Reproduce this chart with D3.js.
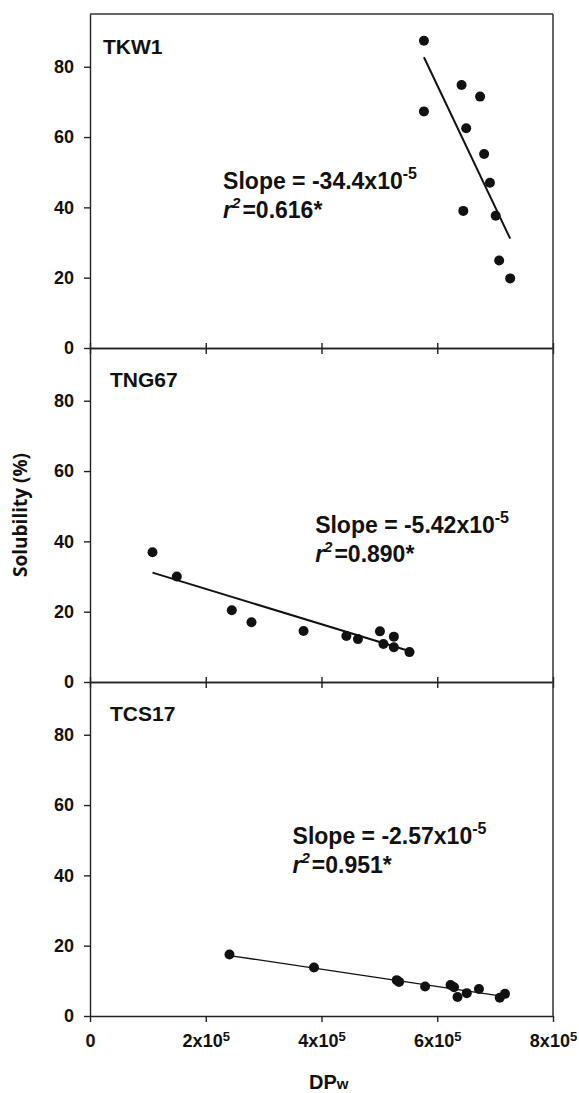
<!DOCTYPE html>
<html>
<head>
<meta charset="utf-8">
<script src="https://cdn.jsdelivr.net/npm/d3@7"></script>
<style>
  body { margin: 0; background: #fff; }
  svg { display: block; }
  text { font-family: "Liberation Sans", Arial, sans-serif; font-weight: bold; fill: #111; }
</style>
</head>
<body>
<svg id="chart" width="579" height="1093"></svg>
<script>
// data
var panelNames = ["TKW1", "TNG67", "TCS17"];

var tkw1DP  = [5.77e5, 5.77e5, 6.42e5, 6.74e5, 6.50e5, 6.81e5, 6.91e5, 6.45e5, 7.01e5, 7.07e5, 7.26e5];
var tkw1Sol = [87.4, 67.3, 74.8, 71.5, 62.5, 55.2, 47.0, 39.0, 37.6, 24.9, 19.8];

var tng67DP  = [1.08e5, 1.50e5, 2.45e5, 2.79e5, 3.69e5, 4.43e5, 4.63e5, 5.01e5, 5.07e5, 5.25e5, 5.25e5, 5.52e5];
var tng67Sol = [36.9, 30.0, 20.4, 17.0, 14.5, 13.1, 12.2, 14.4, 10.8, 12.9, 9.9, 8.5];

var tcs17DP  = [2.41e5, 3.87e5, 5.30e5, 5.34e5, 5.79e5, 6.23e5, 6.29e5, 6.35e5, 6.51e5, 6.72e5, 7.08e5, 7.17e5];
var tcs17Sol = [17.5, 13.8, 10.2, 9.7, 8.4, 8.8, 8.2, 5.4, 6.5, 7.7, 5.2, 6.3];

// regression line end points
var fitDP  = [[5.77e5, 7.26e5], [1.08e5, 5.60e5], [2.41e5, 7.14e5]];
var fitSol = [[82.7, 31.1], [31.1, 8.4], [17.2, 5.6]];

var slopeText = ["-34.4", "-5.42", "-2.57"];
var r2Text = ["0.616", "0.890", "0.951"];

var yTicks = [0, 20, 40, 60, 80];
var xTicks = [0, 2e5, 4e5, 6e5, 8e5];
var xTickMant = ["0", "2", "4", "6", "8"];

var panelDP = [tkw1DP, tng67DP, tcs17DP];
var panelSol = [tkw1Sol, tng67Sol, tcs17Sol];

// layout
var left = 90, right = 553;
var panelTop = [14, 348, 682];
var panelH = 334;
var annoPos = [[2.30e5, 45.2], [3.89e5, 42.4], [3.50e5, 48.9]];
var lineW = [2, 2, 1.3];

var svg = d3.select("#chart");

var x = d3.scaleLinear().domain([0, 8e5]).range([left, right]);

panelNames.forEach(function(name, i) {
  var top = panelTop[i];
  var y = d3.scaleLinear().domain([0, 95]).range([top + panelH, top]);
  var g = svg.append("g");

  // left axis
  var ya = g.append("g")
    .attr("transform", "translate(" + left + ",0)")
    .call(d3.axisLeft(y).tickValues(yTicks).tickSize(6).tickSizeOuter(0).tickPadding(10));
  ya.selectAll("text").attr("font-size", "18px");

  // bottom axis
  var xa = g.append("g")
    .attr("transform", "translate(0," + (top + panelH) + ")")
    .call(d3.axisBottom(x).tickValues(xTicks).tickSize(6).tickSizeOuter(0).tickPadding(12)
      .tickFormat(function() { return ""; }));

  if (i == 2) {
    xa.selectAll(".tick text").each(function(d, k) {
      var t = d3.select(this).attr("font-size", "18px");
      if (k == 0) { t.text("0"); return; }
      t.append("tspan").text(xTickMant[k] + "x10");
      t.append("tspan").attr("font-size", "13px").attr("dy", "-6").text("5");
    });
  }

  // top axis (ticks up) for lower panels, plain line for top panel
  if (i > 0) {
    g.append("g")
      .attr("transform", "translate(0," + top + ")")
      .call(d3.axisTop(x).tickValues(xTicks).tickSize(5).tickSizeOuter(0).tickFormat(function() { return ""; }));
  } else {
    g.append("line")
      .attr("x1", left).attr("x2", right)
      .attr("y1", top).attr("y2", top)
      .attr("stroke", "#333").attr("stroke-width", 1.5);
  }

  g.append("line")
    .attr("x1", right).attr("x2", right)
    .attr("y1", top).attr("y2", top + panelH)
    .attr("stroke", "#333").attr("stroke-width", 1.5);

  g.selectAll(".domain, .tick line").attr("stroke", "#222").attr("stroke-width", 1.4);

  // regression line
  g.append("line")
    .attr("x1", x(fitDP[i][0])).attr("y1", y(fitSol[i][0]))
    .attr("x2", x(fitDP[i][1])).attr("y2", y(fitSol[i][1]))
    .attr("stroke", "#111").attr("stroke-width", lineW[i]);

  // points
  g.selectAll("circle")
    .data(panelDP[i])
    .enter().append("circle")
    .attr("cx", function(d) { return x(d); })
    .attr("cy", function(d, k) { return y(panelSol[i][k]); })
    .attr("r", 5)
    .attr("fill", "#111");

  // panel name
  g.append("text")
    .attr("x", i == 0 ? 103 : 110)
    .attr("y", top + (i == 0 ? 40 : 39))
    .attr("font-size", "21px")
    .text(name);

  // slope / r2 annotation
  var ax = x(annoPos[i][0]), ay = y(annoPos[i][1]);
  var t1 = g.append("text").attr("x", ax).attr("y", ay).attr("font-size", "23px");
  t1.append("tspan").text("Slope = " + slopeText[i] + "x10");
  t1.append("tspan").attr("font-size", "16px").attr("dy", "-10").text("-5");

  var t2 = g.append("text").attr("x", ax).attr("y", ay + 29).attr("font-size", "23px");
  t2.append("tspan").attr("font-style", "italic").text("r");
  t2.append("tspan").attr("font-size", "15px").attr("font-style", "italic").attr("dy", "-10").text("2");
  t2.append("tspan").attr("dy", "10").attr("dx", "2").text("=" + r2Text[i] + "*");
});

// axis titles
svg.append("text")
  .attr("transform", "translate(27,515) rotate(-90)")
  .attr("text-anchor", "middle")
  .attr("font-size", "19px")
  .style("font-family", "'Open Sans', 'DejaVu Sans', sans-serif")
  .text("Solubility (%)");

var xt = svg.append("text")
  .attr("x", 309)
  .attr("y", 1089)
  .attr("font-size", "20px");
xt.append("tspan").text("DP");
xt.append("tspan").attr("font-size", "15px").text("w");
</script>
</body>
</html>
